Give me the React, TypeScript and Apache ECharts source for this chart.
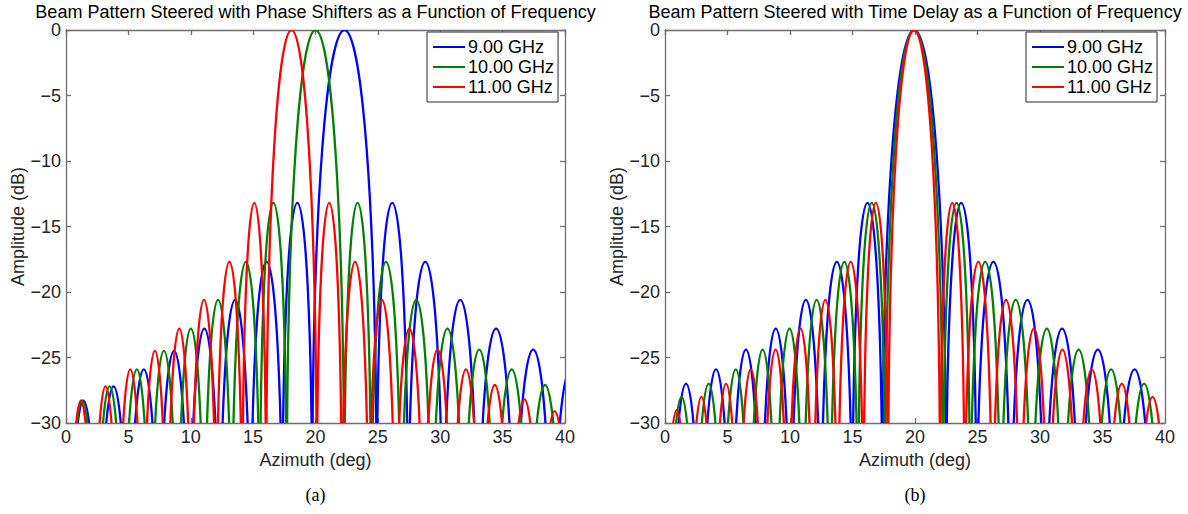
import React, { useEffect, useRef } from "react";
import * as echarts from "echarts";

// ---------- Data ----------
// Each curve is described by its null positions (deg) and the peak level (dB) of the lobe between two nulls.

// (a) Steered with phase shifters
const psNulls9 = [0.2, 2.6, 5.02, 7.45, 9.87, 12.31, 14.8, 17.35, 19.74, 24.9, 27.4, 30.2, 33.0, 35.95, 38.95, 41.95];
const psPeaks9 = [-28.3, -27.2, -25.9, -24.5, -22.8, -20.6, -17.7, -13.2, 0, -13.2, -17.7, -20.6, -22.8, -24.4, -25.9];
const psNulls10 = [0.2, 2.4, 4.59, 6.77, 8.93, 11.09, 13.29, 15.55, 17.7, 22.3, 24.45, 26.85, 29.3, 31.85, 34.4, 37.05, 39.75];
const psPeaks10 = [-28.3, -27.2, -25.9, -24.5, -22.8, -20.6, -17.7, -13.2, 0, -13.2, -17.7, -20.6, -22.8, -24.4, -25.9, -27.1];
const psNulls11 = [0.2, 2.18, 4.16, 6.15, 8.1, 10.06, 12.06, 14.14, 16.05, 20.1, 22.1, 24.25, 26.4, 28.65, 30.92, 33.2, 35.55, 37.95, 40.4];
const psPeaks11 = [-28.3, -27.2, -25.9, -24.5, -22.8, -20.6, -17.7, -13.2, 0, -13.2, -17.7, -20.6, -22.8, -24.4, -25.9, -27.1, -28.2, -29.1];

// (b) Steered with time delay
const tdNulls9 = [0.48, 2.88, 5.28, 7.67, 10.05, 12.49, 15.0, 17.39, 22.49, 24.91, 27.63, 30.36, 33.17, 36.08, 39.05];
const tdPeaks9 = [-27.0, -25.9, -24.4, -22.8, -20.6, -17.7, -13.2, 0, -13.2, -17.7, -20.6, -22.8, -24.4, -25.9];
const tdNulls10 = [0.25, 2.4, 4.58, 6.74, 8.88, 11.04, 13.23, 15.46, 17.62, 22.24, 24.4, 26.83, 29.29, 31.8, 34.38, 37.0, 39.65];
const tdPeaks10 = [-28.0, -27.0, -25.9, -24.4, -22.8, -20.6, -17.7, -13.2, 0, -13.2, -17.7, -20.6, -22.8, -24.4, -25.9, -27.0];
const tdNulls11 = [-0.05, 1.93, 3.9, 5.87, 7.85, 9.85, 11.83, 13.83, 15.89, 17.85, 22.0, 23.96, 26.18, 28.38, 30.63, 32.96, 35.33, 37.76, 40.25];
const tdPeaks11 = [-29.0, -28.0, -27.0, -25.9, -24.4, -22.8, -20.6, -17.7, -13.2, 0, -13.2, -17.7, -20.6, -22.8, -24.4, -25.9, -27.0, -28.0];

const seriesNames = ["9.00 GHz", "10.00 GHz", "11.00 GHz"];
const seriesColors = ["#0000ff", "#008000", "#ff0000"];
const titles = [
  "Beam Pattern Steered with Phase Shifters as a Function of Frequency",
  "Beam Pattern Steered with Time Delay as a Function of Frequency",
];
const captions = ["(a)", "(b)"];
const xName = "Azimuth (deg)";
const yName = "Amplitude (dB)";
const xMin = 0, xMax = 40, xStep = 5;
const yMin = -30, yMax = 0, yStep = 5;

// ---------- Rendering ----------
const FONT = "'Liberation Sans', Arial, Helvetica, sans-serif";
const AXIS_COLOR = "#6e6e6e";
const LABEL_COLOR = "#262626";
const FS = 18;

const lobes = (nulls: number[], peaks: number[]) =>
  peaks.map((p, i) => [nulls[i], nulls[i + 1], p]);

function renderLobe(_params: any, api: any) {
  const x0 = api.value(0);
  const x1 = api.value(1);
  const peak = api.value(2);
  const depth = peak > -6 ? 36 : 25;
  const base = peak - depth;
  const ctrl = base + depth / 0.75;
  const a = api.coord([x0, base]);
  const b = api.coord([x1, base]);
  const ca = api.coord([x0, ctrl]);
  const cb = api.coord([x1, ctrl]);
  return {
    type: "bezierCurve",
    shape: { x1: a[0], y1: a[1], x2: b[0], y2: b[1], cpx1: ca[0], cpy1: ca[1], cpx2: cb[0], cpy2: cb[1] },
    style: { stroke: api.visual("color"), lineWidth: 2.3, fill: null },
    silent: true,
  };
}

const grids = [
  { left: 66, top: 30, width: 499, height: 393 },
  { left: 665, top: 30, width: 500, height: 393 },
];

export default function App() {
  const ref = useRef<HTMLDivElement>(null);
  useEffect(() => {
    if (!ref.current) return;
    const chart = echarts.init(ref.current, null, { renderer: "svg" });

    const xAxes: any[] = [];
    const yAxes: any[] = [];
    grids.forEach((_g, gi) => {
      const common = {
        gridIndex: gi,
        type: "value",
        axisLine: { show: true, onZero: false, lineStyle: { color: AXIS_COLOR, width: 1.3 } },
        axisTick: { show: true, inside: true, length: 5, lineStyle: { color: AXIS_COLOR, width: 1.3 } },
        splitLine: { show: false },
      };
      xAxes.push({
        ...common,
        position: "bottom",
        min: xMin,
        max: xMax,
        interval: xStep,
        name: xName,
        nameLocation: "middle",
        nameGap: 19,
        nameTextStyle: { fontFamily: FONT, fontSize: FS, color: LABEL_COLOR },
        axisLabel: { fontFamily: FONT, fontSize: FS, color: LABEL_COLOR, margin: 5 },
      });
      xAxes.push({
        ...common,
        position: "top",
        min: xMin,
        max: xMax,
        interval: xStep,
        axisLabel: { show: false },
      });
      yAxes.push({
        ...common,
        position: "left",
        min: yMin,
        max: yMax,
        interval: yStep,
        name: yName,
        nameLocation: "middle",
        nameGap: 38,
        nameRotate: 90,
        nameTextStyle: { fontFamily: FONT, fontSize: FS, color: LABEL_COLOR },
        axisLabel: {
          fontFamily: FONT,
          fontSize: FS,
          color: LABEL_COLOR,
          margin: 5,
          formatter: (v: number) => (v < 0 ? "\u2212" + Math.abs(v) : String(v)),
        },
      });
      yAxes.push({
        ...common,
        position: "right",
        min: yMin,
        max: yMax,
        interval: yStep,
        axisLabel: { show: false },
      });
    });

    const panels = [
      [lobes(psNulls9, psPeaks9), lobes(psNulls10, psPeaks10), lobes(psNulls11, psPeaks11)],
      [lobes(tdNulls9, tdPeaks9), lobes(tdNulls10, tdPeaks10), lobes(tdNulls11, tdPeaks11)],
    ];
    const series: any[] = [];
    panels.forEach((curves, gi) => {
      curves.forEach((data, si) => {
        series.push({
          type: "custom",
          name: seriesNames[si],
          xAxisIndex: gi * 2,
          yAxisIndex: gi * 2,
          clip: true,
          itemStyle: { color: seriesColors[si] },
          encode: { x: [0, 1], y: 2 },
          renderItem: renderLobe,
          data,
        });
      });
    });

    const legendBase = (left: number) => ({
      orient: "vertical",
      left,
      top: 32,
      padding: [5, 4, 5, 6],
      itemGap: 0,
      itemWidth: 32,
      itemHeight: 2,
      selectedMode: false,
      backgroundColor: "#ffffff",
      borderColor: "#262626",
      borderWidth: 1,
      borderRadius: 0,
      textStyle: { fontFamily: FONT, fontSize: FS, color: "#000", lineHeight: 20, padding: [0, 0, 0, -2] },
      data: seriesNames.map((n, i) => ({ name: n, icon: "rect", itemStyle: { color: seriesColors[i] } })),
    });

    const graphics: any[] = [];
    grids.forEach((g, gi) => {
      const cx = g.left + g.width / 2;
      graphics.push({
        type: "text",
        x: cx,
        y: 12,
        style: {
          text: titles[gi],
          fontFamily: FONT,
          fontSize: FS,
          fill: "#000",
          textAlign: "center",
          textVerticalAlign: "middle",
        },
      });
      graphics.push({
        type: "text",
        x: cx,
        y: 495,
        style: {
          text: captions[gi],
          fontFamily: "'Liberation Serif', 'Times New Roman', serif",
          fontSize: 18,
          fill: "#000",
          textAlign: "center",
          textVerticalAlign: "middle",
        },
      });
    });

    chart.setOption({
      animation: false,
      backgroundColor: "#ffffff",
      color: seriesColors,
      grid: grids.map((g) => ({ ...g, containLabel: false })),
      xAxis: xAxes,
      yAxis: yAxes,
      legend: [legendBase(427), legendBase(1026)],
      graphic: graphics,
      series,
    });
    return () => chart.dispose();
  }, []);
  return (
    <div
      ref={ref}
      style={{ position: "absolute", left: 0, top: 0, width: 1188, height: 514, background: "#fff" }}
    />
  );
}
